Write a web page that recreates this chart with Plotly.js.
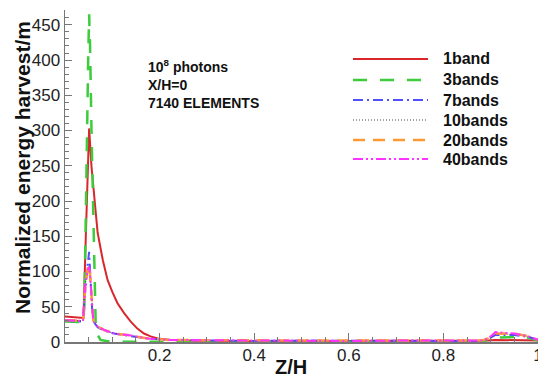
<!DOCTYPE html>
<html>
<head>
<meta charset="utf-8">
<script src="https://cdn.plot.ly/plotly-3.0.1.min.js"></script>
<style>html,body{margin:0;padding:0;background:#fff;}#chart{width:538px;height:383px;}</style>
</head>
<body>
<div id="chart"></div>
<script>
// ---- data ----
const seriesNames = ["1band", "3bands", "7bands", "10bands", "20bands", "40bands"];

const z1band = [0, 0.02, 0.039, 0.044, 0.048, 0.051, 0.056, 0.062, 0.069, 0.080, 0.090, 0.100, 0.111, 0.125, 0.139, 0.153, 0.167, 0.181, 0.196, 0.224, 0.26, 0.30, 0.40, 0.50, 0.60, 0.70, 0.80, 0.88, 0.895, 0.91, 0.95, 0.98, 1.0];
const e1band = [36, 35, 34, 150, 240, 303, 249, 202, 155, 116, 88, 71, 55, 41, 29, 19, 12, 8, 5, 3, 2, 1.5, 1, 1, 1, 1, 1, 1, 2, 3, 3, 3, 2];

const z3bands = [0, 0.02, 0.038, 0.041, 0.043, 0.046, 0.049, 0.051, 0.053, 0.056, 0.059, 0.062, 0.065, 0.069, 0.075, 0.09, 0.12, 0.2, 0.3, 0.4, 0.5, 0.6, 0.7, 0.8, 0.88, 0.895, 0.91, 0.95, 0.98, 1.0];
const e3bands = [29, 29, 28, 50, 150, 260, 400, 465, 420, 300, 190, 85, 22, 10, 3, 1, 0.5, 0.5, 0.5, 0.5, 0.5, 0.5, 0.5, 0.5, 0.5, 3, 6, 7, 6, 2];

const zFine = [0, 0.02, 0.038, 0.041, 0.044, 0.048, 0.051, 0.053, 0.055, 0.057, 0.060, 0.069, 0.083, 0.104, 0.132, 0.175, 0.22, 0.3, 0.4, 0.5, 0.6, 0.7, 0.8, 0.88, 0.895, 0.91, 0.95, 0.98, 1.0];
const e7bands  = [30, 30, 29, 60, 85, 110, 128, 100, 75, 50, 29, 21, 16, 12, 9, 5, 3, 2, 1.5, 2, 1.5, 2, 1.5, 1.5, 4, 10, 10, 7, 3];
const e10bands = [31, 31, 30, 58, 86, 100, 104, 92, 76, 50, 29, 22, 17, 12, 10, 5, 3, 2, 1.5, 1.5, 2, 1.5, 2, 1.5, 4, 11, 11, 8, 3];
const e20bands = [31, 31, 30, 60, 88, 104, 110, 95, 78, 50, 29, 22, 17, 12, 10, 5, 3, 2.5, 2, 1.5, 2, 2, 1.5, 2, 5, 12, 12, 8, 3];
const e40bands = [31, 31, 30, 60, 88, 102, 107, 95, 78, 50, 29, 22, 17, 12, 10, 5, 3, 2.5, 2, 2, 1.5, 2, 2, 2, 5, 14, 12, 8, 3];

const xTickVals = [0.2, 0.4, 0.6, 0.8, 1];
const xTickText = ["0.2", "0.4", "0.6", "0.8", "1"];
const yTickVals = [0, 50, 100, 150, 200, 250, 300, 350, 400, 450];

// ---- styles ----
const colors = ["#d8262b", "#3ccc3c", "#5050ff", "#444444", "#ff9933", "#ff33ff"];
const dashes = ["solid", "14px,13px", "10px,4px,2px,4px", "1px,2px", "12px,8px", "10px,3px,2px,3px,2px,3px"];
const widths = [2, 2.5, 2, 1, 2.5, 2];

const xs = [z1band, z3bands, zFine, zFine, zFine, zFine];
const ys = [e1band, e3bands, e7bands, e10bands, e20bands, e40bands];

const traces = seriesNames.map((n, i) => ({
  type: "scatter", mode: "lines", name: n, x: xs[i], y: ys[i],
  line: {color: colors[i], dash: dashes[i], width: widths[i], shape: "linear"},
  showlegend: false
}));

const W = 538, H = 383, L = 65, R = 0, T = 10, B = 41;
const pw = W - L - R, ph = H - T - B;
const px = v => (v - L) / pw;
const py = v => (H - B - v) / ph;

const font = "Liberation Sans, Arial, sans-serif";
const annotations = [];
const shapes = [];

// Manual legend
const legRows = [59, 80, 100, 120, 140, 159];
seriesNames.forEach((n, i) => {
  shapes.push({type: "line", xref: "paper", yref: "paper", x0: px(353), x1: px(428), y0: py(legRows[i]), y1: py(legRows[i]),
    line: {color: colors[i], dash: dashes[i], width: widths[i]}});
  annotations.push({xref: "paper", yref: "paper", x: px(441), y: py(legRows[i]), xanchor: "left", yanchor: "middle",
    text: n, showarrow: false, font: {family: font, size: 16, weight: 700, color: "#111"}});
});

// Info text
annotations.push({xref: "paper", yref: "paper", x: px(146), y: py(84), xanchor: "left", yanchor: "middle", align: "left",
  text: "10<sup>8</sup> photons<br>X/H=0<br>7140 ELEMENTS", showarrow: false,
  font: {family: font, size: 14, weight: 700, color: "#111"}});

// Axis titles
annotations.push({xref: "paper", yref: "paper", x: px(291), y: py(367), xanchor: "center", yanchor: "middle",
  text: "Z/H", showarrow: false, font: {family: font, size: 20, weight: 700, color: "#111"}});
annotations.push({xref: "paper", yref: "paper", x: px(22), y: py(168), xanchor: "center", yanchor: "middle", textangle: -90,
  text: "Normalized energy harvest/m", showarrow: false, font: {family: font, size: 21, weight: 700, color: "#111"}});

const axisCommon = {
  showline: true, linecolor: "#777", linewidth: 1.5, showgrid: false, zeroline: false,
  ticks: "inside", tickcolor: "#777", tickwidth: 1,
  tickfont: {family: font, size: 17, color: "#222"}
};

const layout = {
  width: W, height: H, margin: {l: L, r: R, t: T, b: B, pad: 0},
  paper_bgcolor: "#fff", plot_bgcolor: "#fff", showlegend: false,
  xaxis: Object.assign({}, axisCommon, {range: [0, 1], tickmode: "array", tickvals: xTickVals, ticktext: xTickText, ticklen: 9,
    ticklabeloverflow: "allow", ticklabelstandoff: -3,
    minor: {ticks: "inside", ticklen: 5, tickcolor: "#777", tickmode: "linear", tick0: 0, dtick: 0.05}}),
  yaxis: Object.assign({}, axisCommon, {range: [0, 471], tickmode: "array", tickvals: yTickVals, ticklen: 7,
    minor: {ticks: "inside", ticklen: 4, tickcolor: "#777", tickmode: "linear", tick0: 0, dtick: 10}}),
  annotations: annotations, shapes: shapes
};

Plotly.newPlot("chart", traces, layout, {displayModeBar: false, staticPlot: true});
</script>
</body>
</html>
